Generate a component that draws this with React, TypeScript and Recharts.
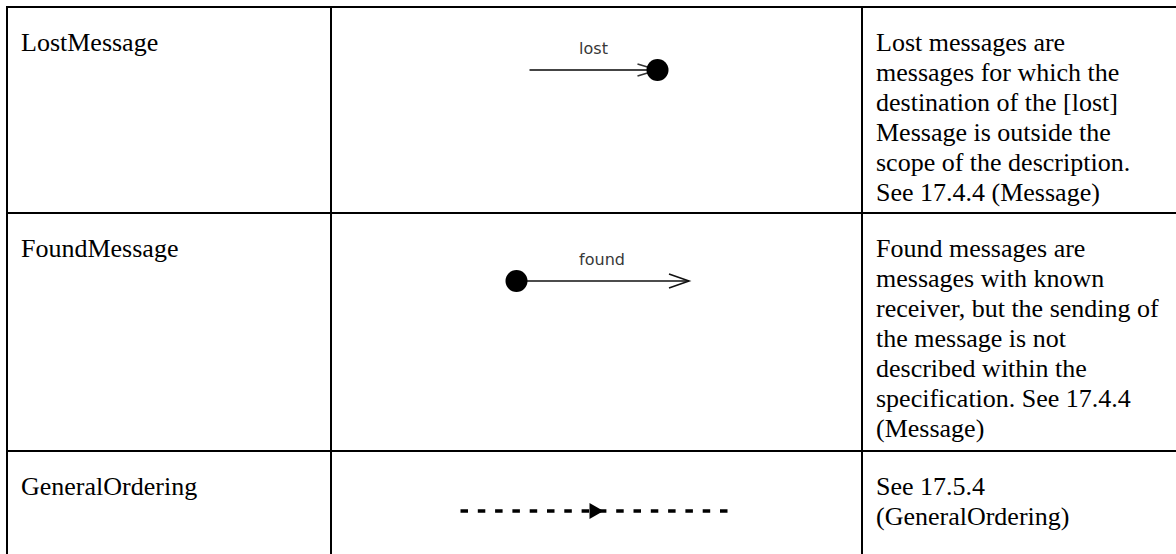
import { LineChart, Line, XAxis, YAxis, ReferenceDot } from "recharts";

const notations = ["LostMessage", "FoundMessage", "GeneralOrdering"];
const descriptions = [
  [
    "Lost messages are",
    "messages for which the",
    "destination of the [lost]",
    "Message is outside the",
    "scope of the description.",
    "See 17.4.4 (Message)",
  ],
  [
    "Found messages are",
    "messages with known",
    "receiver, but the sending of",
    "the message is not",
    "described within the",
    "specification. See 17.4.4",
    "(Message)",
  ],
  ["See 17.5.4", "(GeneralOrdering)"],
];
const messageLabels = ["lost", "found"];
// x of each notation's points, measured from the middle of the cell
const lostX = [-67, 61];
const foundX = [-80, 92.5];
const orderingX = [-136, 0, 136];
const labelX = [-3, 5.5];

const SERIF = '"Liberation Serif", "Times New Roman", serif';
const rowTops = [6, 212, 450];
const lineYs = [70, 281, 511];
const CHART_W = 529;
const CHART_H = 60;

const openArrow = (cx: number, cy: number, color: string, len: number, spread: number) => (
  <polyline
    points={`${cx - len},${cy - spread} ${cx},${cy} ${cx - len},${cy + spread}`}
    fill="none"
    stroke={color}
    strokeWidth={1.6}
  />
);

const lostDot = (p: any) => {
  if (p.index !== lostX.length - 1) return <g key={p.index} />;
  return (
    <g key={p.index}>
      {openArrow(p.cx, p.cy, "#333", 20, 6)}
      <circle cx={p.cx} cy={p.cy} r={11} fill="#000" />
    </g>
  );
};

const foundDot = (p: any) => {
  if (p.index === 0) {
    return <circle key={p.index} cx={p.cx} cy={p.cy} r={11} fill="#000" />;
  }
  return <g key={p.index}>{openArrow(p.cx, p.cy, "#111", 20, 7)}</g>;
};

const orderingDot = (p: any) => {
  if (p.index !== 1) return <g key={p.index} />;
  return (
    <polygon
      key={p.index}
      points={`${p.cx - 7},${p.cy - 8} ${p.cx + 7},${p.cy} ${p.cx - 7},${p.cy + 8}`}
      fill="#000"
    />
  );
};

interface NotationProps {
  xs: number[];
  top: number;
  stroke: string;
  width: number;
  dash?: string;
  dot: (p: any) => any;
  label?: string;
  labelAt?: number;
}

function Notation({ xs, top, stroke, width, dash, dot, label, labelAt }: NotationProps) {
  const data = xs.map((x) => ({ x, y: 0 }));
  return (
    <div style={{ position: "absolute", left: 332, top: top - CHART_H / 2 }}>
      <LineChart
        width={CHART_W}
        height={CHART_H}
        data={data}
        margin={{ top: 0, right: 0, bottom: 0, left: 0 }}
      >
        <XAxis type="number" dataKey="x" domain={[-CHART_W / 2, CHART_W / 2]} hide />
        <YAxis type="number" domain={[-1, 1]} hide />
        <Line
          type="linear"
          dataKey="y"
          stroke={stroke}
          strokeWidth={width}
          strokeDasharray={dash}
          dot={dot}
          activeDot={false}
          isAnimationActive={false}
        />
        {label && (
          <ReferenceDot
            x={labelAt}
            y={0}
            r={0}
            stroke="none"
            fill="none"
            label={{
              value: label,
              position: "top",
              offset: 16,
              fill: "#383838",
              fontSize: 16,
              fontFamily: '"DejaVu Sans", sans-serif',
            }}
          />
        )}
      </LineChart>
    </div>
  );
}

const hLine = (y: number) => (
  <div key={"h" + y} style={{ position: "absolute", left: 6, top: y, width: 1176, height: 2, background: "#000" }} />
);
const vLine = (x: number) => (
  <div key={"v" + x} style={{ position: "absolute", left: x, top: 6, width: 2, height: 560, background: "#000" }} />
);

export default function App() {
  return (
    <div
      style={{
        position: "absolute",
        left: 0,
        top: 0,
        width: 1176,
        height: 554,
        overflow: "hidden",
        background: "#fff",
        fontFamily: SERIF,
        fontSize: 26,
        lineHeight: "30px",
        color: "#000",
      }}
    >
      {rowTops.map(hLine)}
      {[6, 330, 861].map(vLine)}

      {notations.map((name, i) => (
        <div key={name} style={{ position: "absolute", left: 21, top: rowTops[i] + 22 }}>
          {name}
        </div>
      ))}

      {descriptions.map((lines, i) => (
        <div key={i} style={{ position: "absolute", left: 876, top: rowTops[i] + 22, whiteSpace: "nowrap" }}>
          {lines.map((l) => (
            <div key={l}>{l}</div>
          ))}
        </div>
      ))}

      <Notation
        xs={lostX}
        top={lineYs[0]}
        stroke="#444"
        width={2}
        dot={lostDot}
        label={messageLabels[0]}
        labelAt={labelX[0]}
      />
      <Notation
        xs={foundX}
        top={lineYs[1]}
        stroke="#111"
        width={1.6}
        dot={foundDot}
        label={messageLabels[1]}
        labelAt={labelX[1]}
      />
      <Notation
        xs={orderingX}
        top={lineYs[2]}
        stroke="#000"
        width={3.5}
        dash="7.5 9.8"
        dot={orderingDot}
      />
    </div>
  );
}
